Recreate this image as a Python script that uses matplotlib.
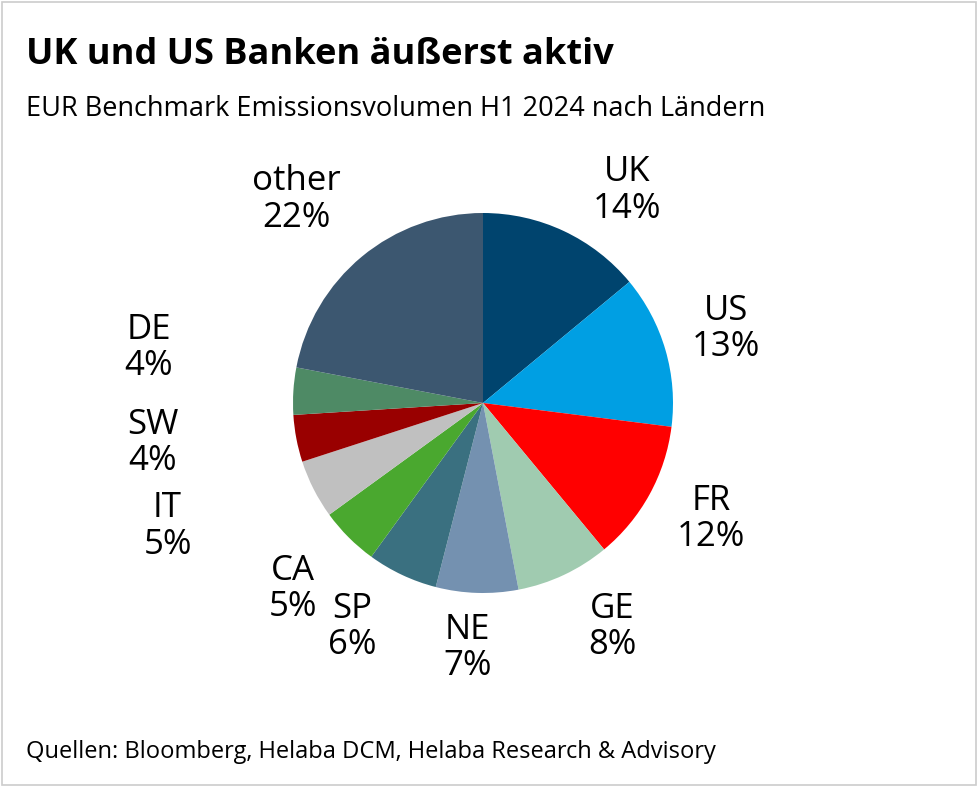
import matplotlib
matplotlib.use("Agg")
import matplotlib.pyplot as plt
from matplotlib.patches import Rectangle

countries = ["UK", "US", "FR", "GE", "NE", "SP", "CA", "IT", "SW", "DE", "other"]
shares = [14, 13, 12, 8, 7, 6, 5, 5, 4, 4, 22]
colors = ["#00446e", "#009fe3", "#ff0000", "#a0cbb0", "#7491b0", "#3a7080",
          "#4aa82f", "#c0c0c0", "#990000", "#4e8a65", "#3c5770"]
# label centres in pie units (radius = 1)
label_pos = [(0.76, 1.12), (1.28, 0.39), (1.20, -0.61), (0.68, -1.18), (-0.08, -1.29),
             (-0.69, -1.18), (-1.0, -0.98), (-1.66, -0.65), (-1.74, -0.21),
             (-1.76, 0.29), (-0.98, 1.07)]

plt.rcParams["font.family"] = "Open Sans"
W, H = 978, 787
fig = plt.figure(figsize=(W / 100, H / 100), dpi=100)
fig.patches.append(Rectangle((0.002, 0.002), 0.996, 0.996, transform=fig.transFigure,
                             fill=False, edgecolor="#cccccc", lw=1.2))

cx, cy, r = 483, 403, 190
ax = fig.add_axes([(cx - r) / W, (H - cy - r) / H, 2 * r / W, 2 * r / H])
ax.pie(shares, colors=colors, startangle=90, counterclock=False, radius=1,
       wedgeprops=dict(linewidth=0))
ax.set_xlim(-1, 1)
ax.set_ylim(-1, 1)
ax.set_aspect("equal")
ax.axis("off")

for name, val, (x, y) in zip(countries, shares, label_pos):
    ax.text(x, y, f"{name}\n{val}%", ha="center", va="center", fontsize=25,
            linespacing=1.1, clip_on=False)

fig.text(26 / W, 1 - 55 / H, "UK und US Banken äußerst aktiv", fontsize=26,
         fontweight="bold", va="center")
fig.text(26 / W, 1 - 109 / H, "EUR Benchmark Emissionsvolumen H1 2024 nach Ländern",
         fontsize=19.5, va="center")
fig.text(26 / W, 1 - 752 / H, "Quellen: Bloomberg, Helaba DCM, Helaba Research & Advisory",
         fontsize=17, va="center")

fig.savefig("out.png", dpi=100)
